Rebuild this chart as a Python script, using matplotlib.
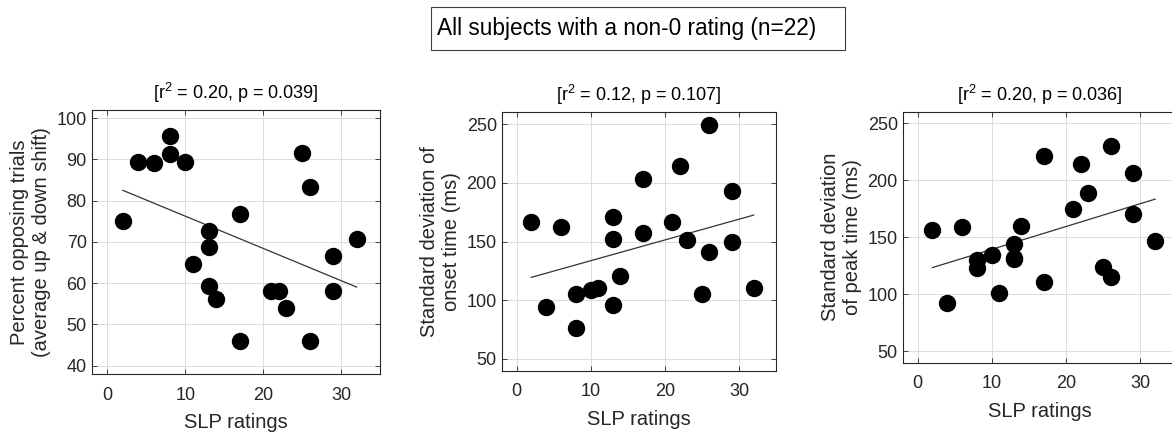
import numpy as np
import matplotlib
matplotlib.use('Agg')
import matplotlib.pyplot as plt
from matplotlib.patches import Rectangle

plt.rcParams['font.family'] = ['Liberation Sans', 'DejaVu Sans']
plt.rcParams['mathtext.fontset'] = 'custom'
plt.rcParams['mathtext.rm'] = 'Liberation Sans'
plt.rcParams['mathtext.it'] = 'Liberation Sans:italic'

# SLP ratings, same subjects in every panel
slp = [2, 4, 6, 8, 8, 10, 11, 13, 13, 13, 14, 17, 17, 21, 22, 23, 25, 26, 26, 29, 29, 32]

pct_opposing = [75, 89.3, 89.2, 95.8, 91.4, 89.3, 64.6, 72.7, 68.7, 59.4, 56.2,
                76.9, 46, 58.2, 58.2, 54.1, 91.6, 83.3, 46, 66.7, 58.2, 70.7]
sd_onset = [167, 94, 162, 105, 76, 109, 110, 171, 152, 96, 121,
            203, 157, 167, 214, 151, 105, 249, 141, 193, 150, 110]
sd_peak = [156, 92, 159, 130, 123, 134, 101, 144, 131, 132, 160,
           221, 111, 175, 214, 189, 124, 230, 115, 206, 170, 147]

titles = ['[r$^2$ = 0.20, p = 0.039]', '[r$^2$ = 0.12, p = 0.107]', '[r$^2$ = 0.20, p = 0.036]']
ylabels = ['Percent opposing trials\n(average up & down shift)',
           'Standard deviation of\nonset time (ms)',
           'Standard deviation\nof peak time (ms)']
yticks = [np.arange(40, 101, 10), np.arange(50, 251, 50), np.arange(50, 251, 50)]
ylims = [(38, 102), (40, 260), (40, 260)]
xticks = [0, 10, 20, 30]

dark = '#262626'
W, H = 1172, 432
fig = plt.figure(figsize=(W / 100, H / 100), dpi=100)

# axes boxes in pixels: left, right, top, bottom
boxes = [(91.7, 380, 110, 374), (501.7, 776, 112.3, 370.7), (902.7, 1177.4, 111.7, 362.7)]
series = [pct_opposing, sd_onset, sd_peak]

for i in range(3):
    l, r, t, b = boxes[i]
    ax = fig.add_axes([l / W, 1 - b / H, (r - l) / W, (b - t) / H])
    x = np.array(slp)
    y = np.array(series[i])
    ax.plot(x, y, 'o', color='black', markersize=11.5, zorder=3)
    k, c = np.polyfit(x, y, 1)
    xx = np.array([x.min(), x.max()])
    ax.plot(xx, k * xx + c, color='#333333', lw=0.9, zorder=2)
    ax.set_xlim(-2, 35)
    ax.set_ylim(*ylims[i])
    ax.set_xticks(xticks)
    ax.set_yticks(yticks[i])
    ax.grid(True, color='#dcdcdc', lw=0.7)
    ax.set_axisbelow(True)
    for s in ax.spines.values():
        s.set_color(dark)
        s.set_linewidth(0.8)
    ax.tick_params(direction='in', top=True, right=True, length=3.5, width=0.6,
                   color=dark, labelcolor=dark, labelsize=13)
    ax.tick_params(axis='x', pad=9)
    ax.tick_params(axis='y', pad=3.5)
    ax.set_xlabel('SLP ratings', fontsize=14.5, color=dark, labelpad=7)
    ax.set_ylabel(ylabels[i], fontsize=14.5, color=dark, labelpad=4)
    ax.set_title(titles[i], fontsize=13, color='black', pad=8)

# boxed overall title
fig.patches.append(Rectangle((430.7 / W, 1 - 50 / H), 414.3 / W, 43.3 / H,
                             transform=fig.transFigure, fill=False,
                             edgecolor='#404040', lw=0.8))
fig.text(437.3 / W, 1 - 28.5 / H, 'All subjects with a non-0 rating (n=22)',
         fontsize=16.3, color='black', ha='left', va='center')

fig.savefig('out.png', dpi=100)
